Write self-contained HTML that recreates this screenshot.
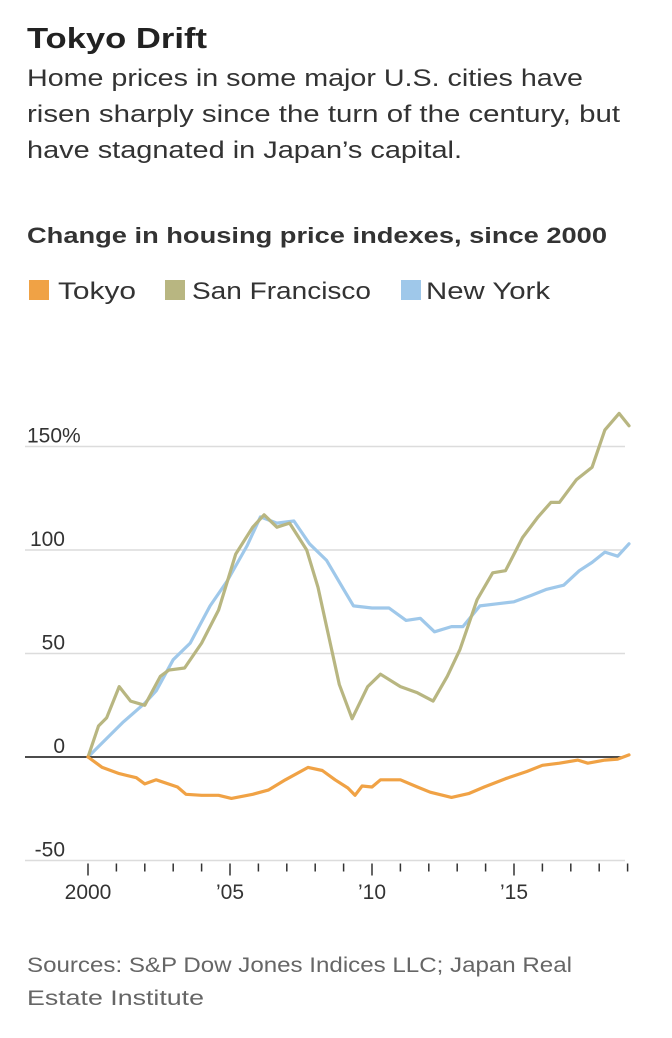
<!DOCTYPE html>
<html><head><meta charset="utf-8"><style>
body{margin:0;background:#fff;width:672px;height:1038px;overflow:hidden}
svg{display:block;font-family:"Liberation Sans",sans-serif}
</style></head><body>
<svg id="chart" width="672" height="1038">
<text x="27" y="48" font-size="29" font-weight="bold" fill="#222" textLength="180" lengthAdjust="spacingAndGlyphs">Tokyo Drift</text>
<g fill="#333" font-size="24">
<text x="27" y="86" textLength="556" lengthAdjust="spacingAndGlyphs">Home prices in some major U.S. cities have</text>
<text x="27" y="122" textLength="593" lengthAdjust="spacingAndGlyphs">risen sharply since the turn of the century, but</text>
<text x="27" y="158" textLength="435" lengthAdjust="spacingAndGlyphs">have stagnated in Japan’s capital.</text>
</g>
<text x="27" y="243" font-size="22" font-weight="bold" fill="#333" textLength="580" lengthAdjust="spacingAndGlyphs">Change in housing price indexes, since 2000</text>
<g font-size="24" fill="#333">
<g><rect x="29" y="280" width="20" height="20" fill="#f0a245"/><text x="58" y="299" textLength="78" lengthAdjust="spacingAndGlyphs">Tokyo</text></g>
<g><rect x="165" y="280" width="20" height="20" fill="#b8b681"/><text x="192" y="299" textLength="179" lengthAdjust="spacingAndGlyphs">San Francisco</text></g>
<g><rect x="401" y="280" width="20" height="20" fill="#9fc8ea"/><text x="426" y="299" textLength="124" lengthAdjust="spacingAndGlyphs">New York</text></g>
</g>
<g id="axes"></g>
<g id="series"></g>
<g fill="#666" font-size="21">
<text x="27" y="972" textLength="545" lengthAdjust="spacingAndGlyphs">Sources: S&amp;P Dow Jones Indices LLC; Japan Real</text>
<text x="27" y="1005" textLength="177" lengthAdjust="spacingAndGlyphs">Estate Institute</text>
</g>
</svg>
<script>
const yTicks=[150,100,50,0,-50];
const yTickLabels=["150%","100","50","0","-50"];
const xTickYears=[2000,2005,2010,2015];
const xTickLabels=["2000","’05","’10","’15"];
const sfYears=[2000,2000.37,2000.66,2001.1,2001.5,2002,2002.55,2002.85,2003.4,2004,2004.6,2005.2,2005.8,2006.2,2006.65,2007.1,2007.7,2008.1,2008.4,2008.85,2009.3,2009.85,2010.3,2011,2011.6,2012.15,2012.65,2013.1,2013.7,2014.25,2014.7,2015.3,2015.85,2016.3,2016.6,2017.2,2017.75,2018.2,2018.7,2019.05];
const sfValues=[0,15,19,34,27,25,39,42,43,55,71,98,111,117,111,113,100,82,63,35,18.5,34,40,34,31,27,39,52,76,89,90,106,116,123,123,134,140,158,166,160];
const nyYears=[2000,2001.25,2002,2002.4,2003,2003.6,2004.3,2004.9,2005.6,2006.07,2006.65,2007.25,2007.8,2008.4,2009,2009.35,2010,2010.6,2011.2,2011.7,2012.2,2012.8,2013.2,2013.8,2014.4,2015,2015.6,2016.15,2016.75,2017.3,2017.75,2018.2,2018.65,2019.05];
const nyValues=[0,17,26,32,47,55,73,85,102,116,113,114,103,95,81,73,72,72,66,67,60.5,63,63,73,74,75,78,81,83,90,94,99,97,103];
const tkYears=[2000,2000.5,2001.1,2001.7,2002,2002.4,2003.15,2003.45,2004,2004.6,2005.05,2005.8,2006.35,2006.95,2007.75,2008.25,2008.7,2009.15,2009.4,2009.65,2010,2010.3,2011,2011.6,2012.05,2012.8,2013.4,2013.95,2014.7,2015.45,2016,2016.6,2017.25,2017.6,2018.2,2018.65,2019.05];
const tkValues=[0,-5,-8,-10,-13,-11,-14.5,-18,-18.5,-18.5,-20,-18,-16,-11,-5,-6.5,-11,-15,-18.5,-14,-14.5,-11,-11,-14.5,-17,-19.5,-17.7,-14.5,-10.5,-7,-4,-3,-1.5,-3,-1.5,-1,1];

const NS="http://www.w3.org/2000/svg";
const xS=yr=>88+28.4*(yr-2000);
const yS=v=>757-2.07*v;
const axes=document.getElementById('axes');
const series=document.getElementById('series');
function mk(tag,attrs,parent){const e=document.createElementNS(NS,tag);for(const k in attrs)e.setAttribute(k,attrs[k]);parent.appendChild(e);return e;}
yTicks.forEach((v,i)=>{
  if(v!==0){const g=mk('line',{x1:25,x2:625,y1:yS(v),y2:yS(v),stroke:'#dcdcdc','stroke-width':1.5},axes);
  
  }
  const t=mk('text',{x:65,y:yS(v)-4,'font-size':21,fill:'#333','text-anchor':'end'},axes);
  t.textContent=yTickLabels[i];
  if(v===150){t.setAttribute('text-anchor','start');t.setAttribute('x',27);}
  
  
});
for(let yr=2000;yr<=2019;yr++){
  const major=xTickYears.includes(yr);
  const tk=mk('line',{x1:xS(yr),x2:xS(yr),y1:yS(-50)+3,y2:yS(-50)+(major?15:11),stroke:'#333','stroke-width':1.5},axes);
  
  
}
xTickYears.forEach((yr,i)=>{
  const t=mk('text',{x:xS(yr),y:899,'font-size':21,fill:'#333','text-anchor':'middle'},axes);
  t.textContent=xTickLabels[i];
  
  
});
function line(xs,vs,color,name){
  const d=xs.map((x,i)=>(i?'L':'M')+xS(x).toFixed(1)+' '+yS(vs[i]).toFixed(1)).join(' ');
  const p=mk('path',{d:d,fill:'none',stroke:color,'stroke-width':3.2,'stroke-linejoin':'round','stroke-linecap':'round'},series);
  
  
}
line(nyYears,nyValues,'#9fc8ea','line-new-york');
line(sfYears,sfValues,'#b8b681','line-san-francisco');
const z=mk('line',{x1:25,x2:625,y1:yS(0),y2:yS(0),stroke:'#111','stroke-width':1.5},series);


line(tkYears,tkValues,'#f0a245','line-tokyo');
</script>
</body></html>
